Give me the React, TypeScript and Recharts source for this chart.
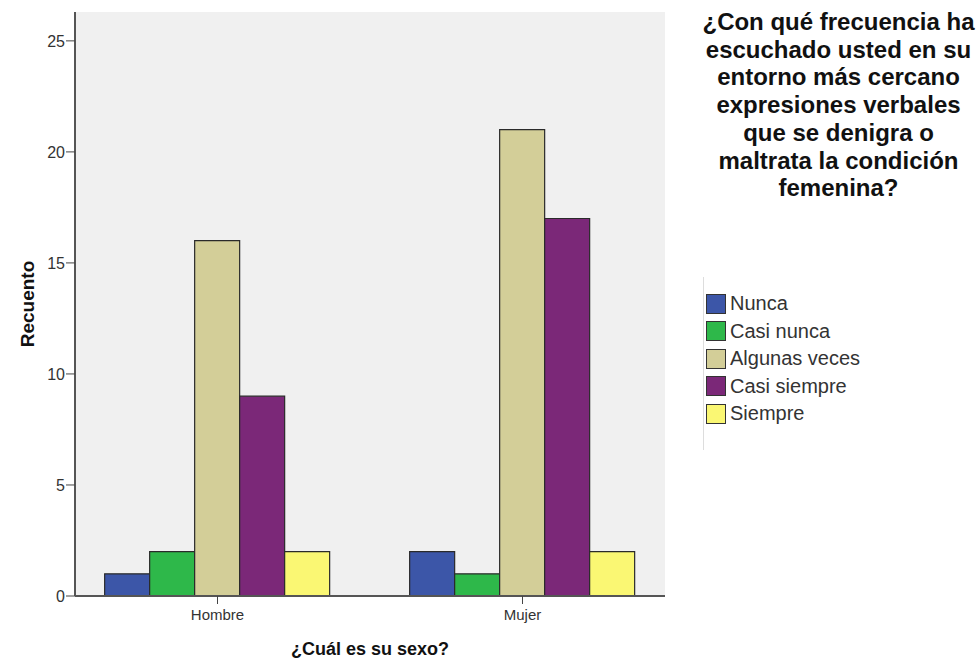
import React from 'react';
import { BarChart, Bar, XAxis, YAxis, CartesianGrid, Legend } from 'recharts';

const categories = ['Hombre', 'Mujer'];
const nunca = [1, 2];
const casiNunca = [2, 1];
const algunasVeces = [16, 21];
const casiSiempre = [9, 17];
const siempre = [2, 2];
const yTicks = [0, 5, 10, 15, 20, 25];

const series = [
  { key: 'Nunca', values: nunca, color: '#3C56A8' },
  { key: 'Casi nunca', values: casiNunca, color: '#2EB84A' },
  { key: 'Algunas veces', values: algunasVeces, color: '#D3CE98' },
  { key: 'Casi siempre', values: casiSiempre, color: '#7B2878' },
  { key: 'Siempre', values: siempre, color: '#FAF773' },
];

const data = categories.map((c, i) => {
  const row: any = { sexo: c };
  series.forEach((s) => (row[s.key] = s.values[i]));
  return row;
});

const FONT = '"Liberation Sans", Arial, sans-serif';

const LegendContent = () => (
  <div style={{ borderLeft: '1px solid #ddd', height: 173, paddingTop: 13, boxSizing: 'border-box', fontFamily: FONT }}>
    {series.map((s) => (
      <div key={s.key} style={{ display: 'flex', alignItems: 'center', height: 27.5 }}>
        <div style={{ width: 18, height: 18, background: s.color, border: '1px solid #333', marginLeft: 2, marginRight: 4 }} />
        <span style={{ fontSize: 20, color: '#333', whiteSpace: 'nowrap' }}>{s.key}</span>
      </div>
    ))}
  </div>
);

export default function App() {
  return (
    <div style={{ position: 'absolute', left: 0, top: 0, width: 977, height: 662, background: '#fff' }}>
      <BarChart
        width={977}
        height={662}
        data={data}
        margin={{ top: 12, right: 312, left: 15, bottom: 0 }}
        barCategoryGap="13%"
        barGap={0}
      >
        <CartesianGrid horizontal={false} vertical={false} fill="#F0F0F0" />
        <XAxis
          dataKey="sexo"
          xAxisId={0}
          height={66}
          padding={{ left: -10, right: -10 }}
          tickSize={8}
          tickMargin={5}
          tickLine={{ stroke: '#444' }}
          axisLine={{ stroke: '#555', strokeWidth: 2 }}
          tick={{ fontSize: 15, fill: '#333', fontFamily: FONT }}
          label={{ value: '¿Cuál es su sexo?', position: 'insideBottom', offset: 7, style: { fontSize: 18, fontWeight: 'bold', fill: '#111', fontFamily: FONT } }}
        />
        <XAxis xAxisId="top" orientation="top" dataKey="sexo" height={0} tick={false} tickLine={false} axisLine={{ stroke: '#666', strokeWidth: 1.5 }} />
        <YAxis
          yAxisId={0}
          width={60}
          domain={[0, 26.3]}
          ticks={yTicks}
          allowDataOverflow
          tickSize={9}
          tickLine={{ stroke: '#444' }}
          axisLine={{ stroke: '#555', strokeWidth: 2 }}
          tick={{ fontSize: 16, fill: '#333', fontFamily: FONT }}
          tickMargin={1}
          label={(props: any) => {
            const vb = props.viewBox || { x: 15, y: 12, width: 60, height: 584 };
            const cy = vb.y + vb.height / 2;
            return (
              <text x={27} y={cy} transform={`rotate(-90, 27, ${cy})`} textAnchor="middle" dominantBaseline="central" style={{ fontSize: 19, fontWeight: 'bold', fill: '#111', fontFamily: FONT }}>
                Recuento
              </text>
            );
          }}
        />
        <YAxis yAxisId="right" orientation="right" width={0} domain={[0, 26.3]} tick={false} tickLine={false} axisLine={{ stroke: '#666', strokeWidth: 1.5 }} />
        {series.map((s) => (
          <Bar key={s.key} dataKey={s.key} fill={s.color} stroke="#2a2a2a" strokeWidth={1.2} isAnimationActive={false} xAxisId={0} yAxisId={0} />
        ))}
        <Legend
          layout="horizontal"
          verticalAlign="middle"
          align="center"
          content={<LegendContent />}
          wrapperStyle={{ position: 'absolute', left: 703, top: 277, width: 200 }}
        />
      </BarChart>
      <div
        style={{
          position: 'absolute',
          left: 700,
          top: 8,
          width: 277,
          textAlign: 'center',
          fontFamily: FONT,
          fontWeight: 'bold',
          fontSize: 24,
          lineHeight: '27.7px',
          color: '#111',
        }}
      >
        ¿Con qué frecuencia ha escuchado usted en su entorno más cercano expresiones verbales que se denigra o maltrata la condición femenina?
      </div>
    </div>
  );
}
